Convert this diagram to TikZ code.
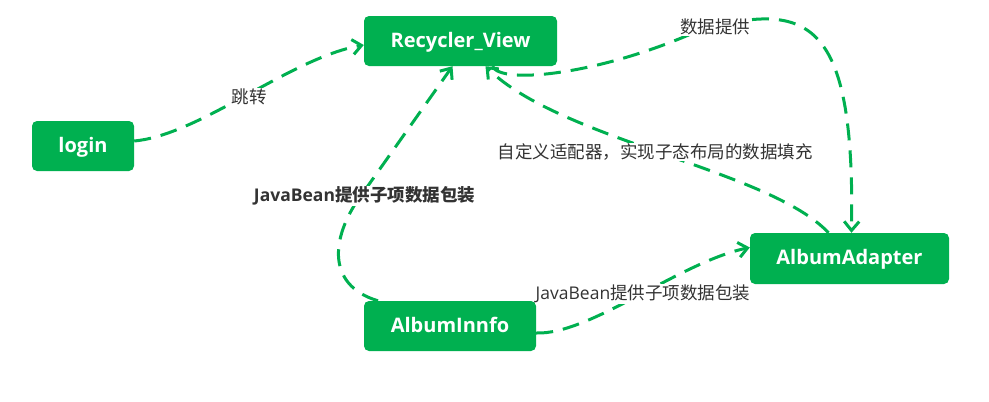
\documentclass[tikz,border=0pt]{standalone}
\usepackage{fontspec}
\setmainfont{Noto Sans CJK SC}
\newfontfamily\lat{Open Sans}
\usetikzlibrary{arrows.meta}
\definecolor{gr}{HTML}{00B050}
\definecolor{tx}{HTML}{333333}
\begin{document}
\begin{tikzpicture}[x=1pt,y=-1pt,
  box/.style={fill=gr, rounded corners=5pt, text=white, font=\lat\bfseries\fontsize{20}{24}\selectfont, inner sep=0pt, minimum height=50pt, text height=15pt, text depth=3pt},
  link/.style={draw=gr, line width=3pt, dash pattern=on 17pt off 10pt, -{Straight Barb[length=9pt,width=15pt]}},
  lab/.style={fill=white, text=tx, font=\fontsize{17.5}{20}\selectfont, inner sep=1pt}]
\useasboundingbox (0,0) rectangle (989,402);
\node[box, minimum width=102pt] (login) at (83,146) {login};
\node[box, minimum width=193pt] (rv) at (460.5,41) {Recycler\_View};
\node[box, minimum width=199pt, minimum height=51pt] (aa) at (849.5,258.5) {AlbumAdapter};
\node[box, minimum width=172pt] (ai) at (450,326) {AlbumInnfo};

\draw[link] ([yshift=5pt]login.east) .. controls (200,135) and (290,58) .. ([yshift=-4pt]rv.west);
\draw[link] ([xshift=-72pt]ai.north) .. controls (325,285) and (330,235) .. (365,190) -- ([xshift=-8pt]rv.south);
\draw[link] ([xshift=-21pt]aa.north) .. controls (770,170) and (560,140) .. ([xshift=25pt]rv.south);
\draw[link] ([xshift=32pt]rv.south) .. controls (500,85) and (600,75) .. (700,30) .. controls (810,0) and (855,20) .. ([xshift=2pt]aa.north);
\draw[link] ([yshift=-7pt]ai.east) .. controls (590,335) and (680,262) .. ([yshift=11pt]aa.west);

\node[lab] (l1) at (249,97) {跳转};
\node[lab] (l2) at (364.5,196) {{\lat\bfseries JavaBean}\bfseries 提供子项数据包装};
\node[lab] (l3) at (655,152) {自定义适配器，实现子态布局的数据填充};
\node[lab] (l4) at (715,27) {数据提供};
\node[lab] (l5) at (643,294) {{\lat JavaBean}提供子项数据包装};
\end{tikzpicture}
\end{document}
